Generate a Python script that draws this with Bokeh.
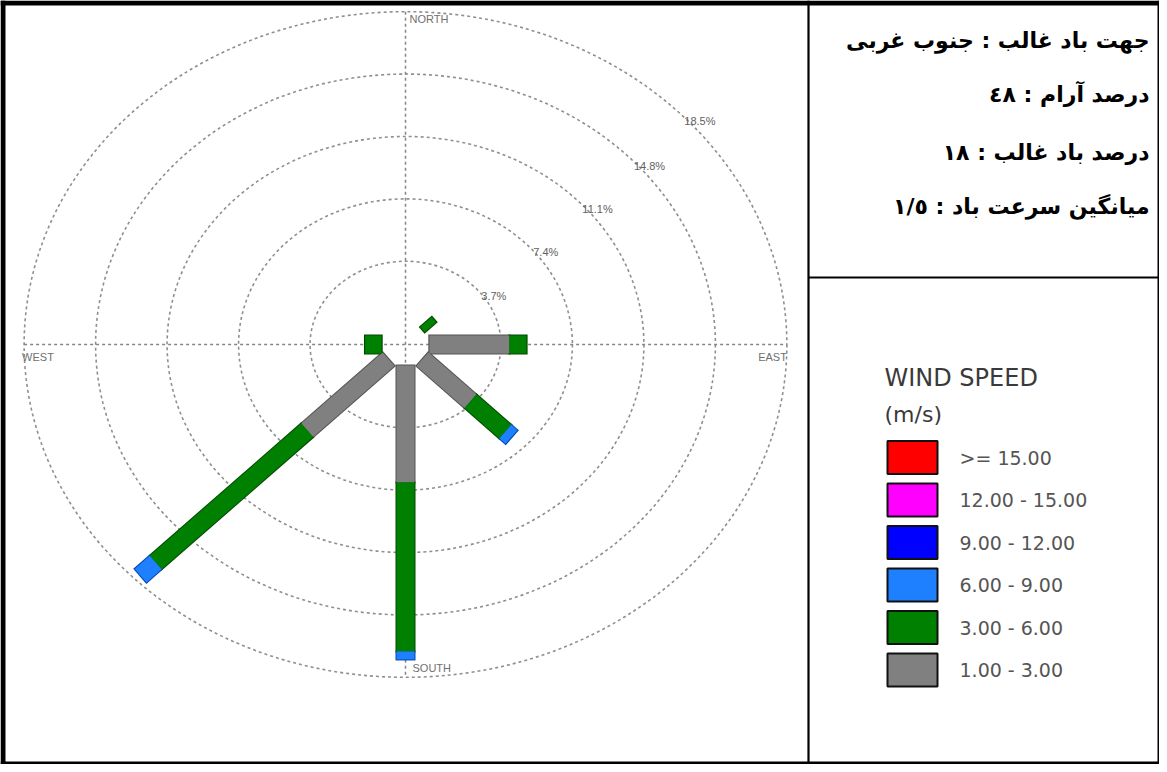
import math
from bokeh.plotting import figure
from bokeh.models import Range1d, ColumnDataSource
from bokeh.core.properties import value
from bokeh.embed import file_html
from bokeh.resources import INLINE

# ---------------- data ----------------
directions = ["N", "NE", "E", "SE", "S", "SW", "W", "NW"]
dir_angles = [0, 45, 90, 135, 180, 225, 270, 315]
speed_classes = ["1.00 - 3.00", "3.00 - 6.00", "6.00 - 9.00",
                 "9.00 - 12.00", "12.00 - 15.00", ">= 15.00"]
freq_1_3 = [0, 0, 4.14, 3.52, 6.95, 5.96, 0, 0]
freq_3_6 = [0, 0.85, 0.88, 2.55, 10.02, 11.09, 0.85, 0]
freq_6_9 = [0, 0, 0, 0.45, 0.47, 1.10, 0, 0]
freq_9_12 = [0, 0, 0, 0, 0, 0, 0, 0]
freq_12_15 = [0, 0, 0, 0, 0, 0, 0, 0]
freq_15p = [0, 0, 0, 0, 0, 0, 0, 0]
ring_values = [3.7, 7.4, 11.1, 14.8, 18.5]
ring_labels = ["3.7%", "7.4%", "11.1%", "14.8%", "18.5%"]
compass_labels = ["NORTH", "EAST", "SOUTH", "WEST"]
info_lines = ["جهت باد غالب : جنوب غربی",
              "درصد آرام : ٤٨",
              "درصد باد غالب : ١٨",
              "میانگین سرعت باد : ١/٥"]
legend_title = ["WIND SPEED", "(m/s)"]

# ---------------- style ----------------
class_colors = ["#808080", "#008000", "#1f80ff", "#0000ff", "#ff00ff", "#ff0000"]
class_edges = ["#555555", "#004800", "#0048b0", "#000080", "#900090", "#900000"]
bar_width = [18, 7, 18, 18, 18, 18, 18, 18]
hole = 1.24
W, H = 1159, 764
cx, cy = 405, 344          # centre of the rose in canvas px
sx, sy = 19.32, 16.86      # px per percent unit (x, y)

p = figure(width=W, height=H, output_backend="svg", toolbar_location=None,
           x_range=Range1d(-cx / sx, (W - cx) / sx),
           y_range=Range1d(-(H - cy) / sy, cy / sy),
           x_axis_type=None, y_axis_type=None, min_border=0,
           background_fill_color="white", border_fill_color="white")
p.grid.visible = False
p.outline_line_color = None
p.extra_x_ranges = {"px": Range1d(0, W)}
p.extra_y_ranges = {"px": Range1d(H, 0)}
PX = dict(x_range_name="px", y_range_name="px")

# ---------------- rings & cross ----------------
radii = [hole + v for v in ring_values]
p.ellipse(x=[0] * len(radii), y=[0] * len(radii),
          width=[2 * r for r in radii], height=[2 * r for r in radii],
          fill_color=None, line_color="#8f8f8f", line_width=1.6, line_dash="3 3")
R = radii[-1]
p.segment(x0=[-R, 0], y0=[0, R], x1=[R, 0], y1=[0, -R],
          line_color="#858585", line_width=1.5, line_dash="3 3")

la = [58, 53, 51, 50, 49]
lx = [(r + 0.45) * math.sin(math.radians(a)) for r, a in zip(radii, la)]
ly = [(r + 0.45) * math.cos(math.radians(a)) for r, a in zip(radii, la)]
p.text(x=lx, y=ly, text=ring_labels, text_align="center", text_baseline="middle",
       text_font=value("Liberation Sans"), text_font_size="11px", text_color="#606060")

# compass labels
cl_style = dict(text_font=value("Liberation Sans"), text_font_size="11px",
                text_color="#707070")
p.text(x=[0], y=[R], text=[compass_labels[0]], x_offset=4, y_offset=1,
       text_align="left", text_baseline="top", **cl_style)
p.text(x=[R], y=[0], text=[compass_labels[1]], y_offset=6,
       text_align="right", text_baseline="top", **cl_style)
p.text(x=[0], y=[-R], text=[compass_labels[2]], x_offset=7, y_offset=-3,
       text_align="left", text_baseline="bottom", **cl_style)
p.text(x=[-R], y=[0], text=[compass_labels[3]], x_offset=-2, y_offset=6,
       text_align="left", text_baseline="top", **cl_style)

# ---------------- bars ----------------
classes = [freq_1_3, freq_3_6, freq_6_9, freq_9_12, freq_12_15, freq_15p]
cum = [hole] * len(directions)
segs = []
for ci, freqs in enumerate(classes):
    for di, f in enumerate(freqs):
        if f > 0:
            segs.append((di, ci, cum[di], cum[di] + f))
            cum[di] += f

def polar(r, a):
    return r * math.sin(math.radians(a)), r * math.cos(math.radians(a))

def seg_source(ext):
    d = dict(x0=[], y0=[], x1=[], y1=[], w=[], fc=[], ec=[])
    for di, ci, r0, r1 in segs:
        a = dir_angles[di]
        x0, y0 = polar(r0 - ext, a)
        x1, y1 = polar(r1 + ext, a)
        d["x0"].append(x0); d["y0"].append(y0)
        d["x1"].append(x1); d["y1"].append(y1)
        d["w"].append(bar_width[di] + (2 if ext else 0))
        d["fc"].append(class_colors[ci]); d["ec"].append(class_edges[ci])
    return ColumnDataSource(d)

p.segment(x0="x0", y0="y0", x1="x1", y1="y1", line_width="w", line_color="ec",
          line_cap="butt", source=seg_source(0.06))
p.segment(x0="x0", y0="y0", x1="x1", y1="y1", line_width="w", line_color="fc",
          line_cap="butt", source=seg_source(0.0))

# ---------------- frame ----------------
p.quad(left=[0, 0, 0, W - 2], right=[W, 5, W, W], top=[0, 0, H - 3, 0],
       bottom=[5, H, H, H], fill_color="black", line_color=None, **PX)
p.segment(x0=[808, 808], y0=[0, 277], x1=[808, W], y1=[H, 277],
          line_color="black", line_width=2.2, **PX)

# ---------------- info text ----------------
p.text(x=[1149] * 4, y=[40, 94, 152, 206], text=info_lines,
       text_align="right", text_baseline="alphabetic",
       text_font=value("DejaVu Sans"), text_font_style="bold",
       text_font_size="22px", text_color="black", **PX)

# ---------------- legend ----------------
p.text(x=[884], y=[377], text=[legend_title[0]], text_align="left",
       text_baseline="alphabetic", text_font=value("DejaVu Sans"),
       text_font_size="24px", text_color="#3a3a3a", **PX)
p.text(x=[884], y=[414], text=[legend_title[1]], text_align="left",
       text_baseline="alphabetic", text_font=value("DejaVu Sans"),
       text_font_size="22px", text_color="#3a3a3a", **PX)
order = list(range(len(speed_classes)))[::-1]
ys = [457 + 42.5 * k for k in range(len(order))]
p.rect(x=[912] * len(order), y=ys, width=50, height=33,
       fill_color=[class_colors[i] for i in order], line_color="#111111",
       line_width=2, **PX)
p.text(x=[959] * len(order), y=ys, text=[speed_classes[i] for i in order],
       text_align="left", text_baseline="middle", text_font=value("DejaVu Sans"),
       text_font_size="19px", text_color="#555555", **PX)

open("out.html", "w").write(file_html(p, INLINE))
